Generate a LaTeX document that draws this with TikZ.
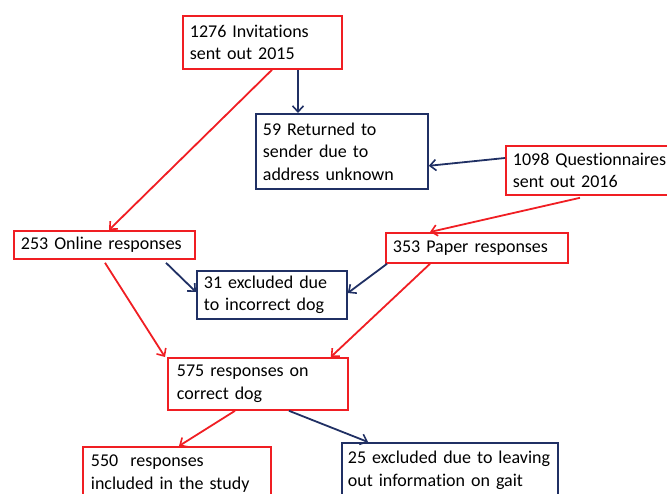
\documentclass[tikz,border=0pt]{standalone}
\usepackage{fontspec}
\setmainfont{Carlito}[Ligatures=NoCommon]
\usetikzlibrary{arrows.meta}
\definecolor{fred}{RGB}{240,30,35}
\definecolor{fnavy}{RGB}{32,48,100}
\newcommand{\boxfont}{\fontsize{18}{22.5}\selectfont\hyphenpenalty=10000\relax\exhyphenpenalty=10000\relax}
\tikzset{
  box/.style={draw, line width=1.8pt, anchor=north west, inner xsep=7pt, inner ysep=0pt,
    align=left, font=\boxfont},
  rbox/.style={box, draw=fred},
  nbox/.style={box, draw=fnavy},
  conn/.style={line width=1.8pt, -{Straight Barb[length=6pt,width=11pt,line width=1.6pt]}},
  rarr/.style={conn, draw=fred},
  narr/.style={conn, draw=fnavy}
}
\begin{document}
\begin{tikzpicture}[x=1pt,y=-1pt]
\useasboundingbox (0,0) rectangle (667,493);
\clip (0,0) rectangle (667,493);
\node[rbox, minimum width=159pt, minimum height=53pt, text width=145pt] (inv) at (182,15) {1276 Invitations\\sent out 2015};
\node[nbox, minimum width=172pt, minimum height=75pt, text width=158pt] (ret) at (255,113) {59 Returned to\\sender due to\\address unknown};
\node[rbox, minimum width=200pt, minimum height=49pt, text width=186pt, inner xsep=6pt] (que) at (505,145) {1098 Questionnaires\\sent out 2016};
\node[rbox, minimum width=181pt, minimum height=28pt, text width=167pt] (onl) at (13,230) {253 Online responses};
\node[rbox, minimum width=182pt, minimum height=30pt, text width=168pt] (pap) at (385,232) {353 Paper responses};
\node[nbox, minimum width=150pt, minimum height=48pt, text width=136pt] (exc) at (196,270) {31 excluded due\\to incorrect dog};
\node[rbox, minimum width=176pt, minimum height=52pt, text width=162pt, inner xsep=9pt] (cor) at (167,357) {575 responses on\\correct dog};
\node[rbox, minimum width=188pt, minimum height=53pt, text width=172pt, inner xsep=8pt] (inc) at (82,446) {550\ \ responses\\included in the study};
\node[nbox, minimum width=216pt, minimum height=55pt, text width=210pt, inner xsep=3pt] (gai) at (341,442) {\hspace*{3pt}25 excluded due to leaving\\\hspace*{3pt}out information on gait};

\draw[narr] ([xshift=116pt]inv.south west) -- ([xshift=43pt]ret.north west);
\draw[rarr] ([xshift=90pt]inv.south west) -- ([xshift=96pt]onl.north west);
\draw[narr] ([yshift=-13pt]que.north west) -- ([yshift=24pt]ret.south east);
\draw[rarr] ([xshift=75pt,yshift=-2pt]que.south west) -- ([xshift=45pt]pap.north west);
\draw[narr] ([xshift=153pt,yshift=-3pt]onl.south west) -- ([yshift=-22pt]exc.north west);
\draw[narr] ([xshift=2pt]pap.south west) -- ([yshift=-23pt]exc.north east);
\draw[rarr] ([xshift=92pt,yshift=-3pt]onl.south west) -- ([xshift=-2pt]cor.north west);
\draw[rarr] ([xshift=45pt]pap.south west) -- ([xshift=-18pt]cor.north east);
\draw[rarr] ([xshift=68pt]cor.south west) -- ([xshift=97pt]inc.north west);
\draw[narr] ([xshift=122pt]cor.south west) -- ([xshift=27pt]gai.north west);
\end{tikzpicture}
\end{document}
